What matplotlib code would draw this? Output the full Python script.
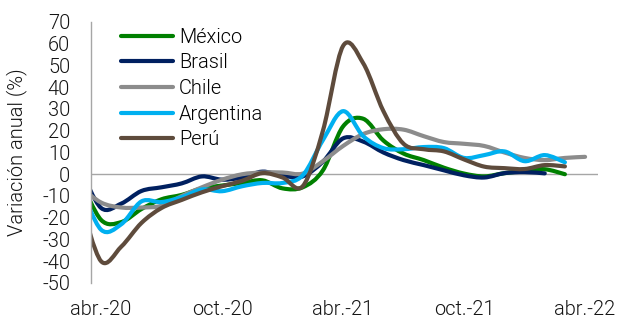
import numpy as np
import matplotlib
matplotlib.use("Agg")
import matplotlib.pyplot as plt
from matplotlib.path import Path
from matplotlib.patches import PathPatch
from matplotlib.lines import Line2D

# Variación anual (%) mensual; el primer valor es mar.-20 (queda recortado por el eje)
mexico = [-3, -21, -22, -16, -11.5, -9.5, -6.5, -5.2, -4, -2.8, -6.5, -6, 1.8,
          22, 25.5, 15.5, 9.5, 6.5, 3, 0.3, -1, 0.5, 1.5, 2.3, 0]
brasil = [2, -15.5, -13.5, -7.7, -6, -4.2, -1, -2.5, -1.5, 1.2, -0.7, -1, 5.8,
          16.5, 15, 10, 6.5, 4.2, 1.8, -0.5, -1.5, 0.5, 1, 0.4]
chile = [-6, -13, -15.3, -15.3, -14.5, -10, -6, -2.5, 0, 0.8, 0.8, 0.3, 6,
         13, 18.5, 20.7, 20.5, 17.5, 14.8, 14, 13, 10, 7.5, 6.5, 7.5, 8]
argentina = [-6, -25.5, -23, -12.5, -12.8, -10.5, -7, -7.8, -5.5, -4, -4, -0.5, 15.7,
             29, 17.5, 12, 11.5, 12.5, 12, 7.5, 8.8, 10.5, 6, 8.8, 5.5]
peru = [-13, -40, -33.3, -22.4, -15.5, -11.8, -8.3, -5.5, -3, 0.5, -1.5, -5.5, 20,
        59, 51, 29, 14, 11.5, 10.5, 6.8, 3.5, 2.8, 2.4, 4.2, 3.6]

series = ["México", "Brasil", "Chile", "Argentina", "Perú"]
valores = [mexico, brasil, chile, argentina, peru]
colores = ["#008000", "#002060", "#8c8c8c", "#00b0f0", "#5e4b3c"]

ticks_x = [0, 6, 12, 18, 24]
etiquetas_x = ["abr.-20", "oct.-20", "abr.-21", "oct.-21", "abr.-22"]
ticks_y = list(range(-50, 71, 10))


def ruta_suave(x, y):
    # curva suavizada (Catmull-Rom pasado a Bezier cúbico)
    pts = np.column_stack([x, y]).astype(float)
    n = len(pts)
    verts = [pts[0]]
    codes = [Path.MOVETO]
    for i in range(n - 1):
        p0 = pts[i - 1] if i > 0 else pts[i]
        p1 = pts[i]
        p2 = pts[i + 1]
        p3 = pts[i + 2] if i + 2 < n else pts[i + 1]
        verts += [p1 + (p2 - p0) / 6, p2 - (p3 - p1) / 6, p2]
        codes += [Path.CURVE4] * 3
    return Path(verts, codes)


plt.rcParams["font.family"] = ["Roboto", "DejaVu Sans"]
plt.rcParams["font.weight"] = 300
plt.rcParams["font.size"] = 14.4
plt.rcParams["axes.unicode_minus"] = False

fig = plt.figure(figsize=(6.22, 3.21), dpi=100)
ax = fig.add_axes([0.1463, 0.1184, 0.8151, 0.8131])

ax.axhline(0, color="#a6a6a6", lw=1, zorder=1)

handles = []
for nombre, ys, c in zip(series, valores, colores):
    xs = np.arange(len(ys)) - 1
    ax.add_patch(PathPatch(ruta_suave(xs, ys), facecolor="none", edgecolor=c,
                           lw=3, capstyle="round", joinstyle="round", zorder=2))
    handles.append(Line2D([], [], color=c, lw=3, solid_capstyle="round"))

ax.set_xlim(-0.5, 24.64)
ax.set_ylim(-50, 70)
ax.set_yticks(ticks_y)
ax.set_xticks(ticks_x, etiquetas_x)
ax.tick_params(axis="y", length=0, pad=15, colors="#141414")
ax.tick_params(axis="x", length=0, pad=12, colors="#141414")

for lado in ["top", "right", "bottom"]:
    ax.spines[lado].set_visible(False)
ax.spines["left"].set_color("#a6a6a6")
ax.spines["left"].set_linewidth(1)

fig.text(17 / 622, 0.525, "Variación anual (%)", rotation=90,
         ha="center", va="center", color="#141414")

ax.legend(handles, series, loc="upper left", bbox_to_anchor=(0.059, 0.978),
          frameon=False, borderpad=0, borderaxespad=0, handlelength=2.6,
          handletextpad=0.3, labelspacing=0.33)

fig.savefig("out.png", dpi=100)
